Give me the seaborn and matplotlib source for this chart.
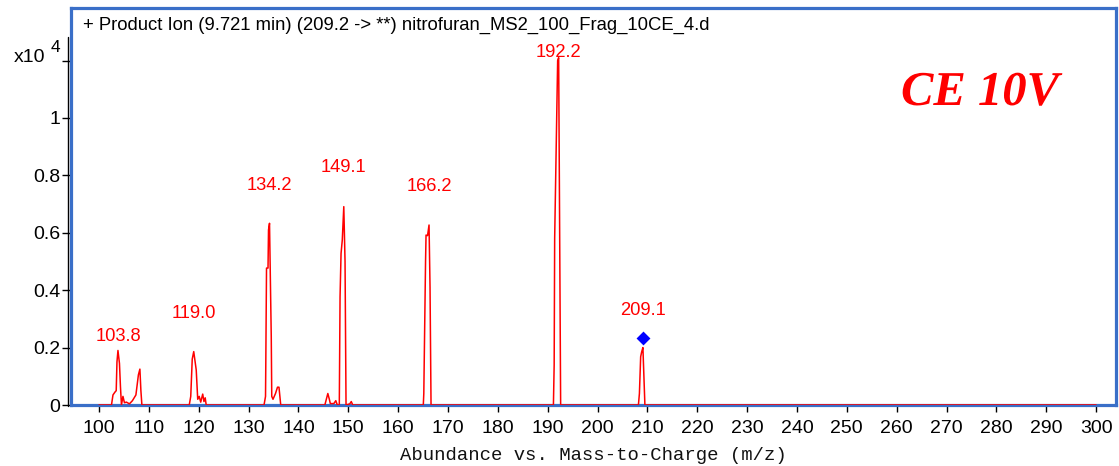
import matplotlib
matplotlib.use("Agg")
import matplotlib.pyplot as plt
import matplotlib.patheffects as pe
from matplotlib.lines import Line2D
from matplotlib import font_manager
import seaborn as sns
import pandas as pd

# Profile spectrum (m/z, abundance in units of 1e4 counts)
mz = [100.0, 102.5, 102.8, 103.2, 103.45, 103.6, 103.8, 104.1, 104.3, 104.5,
      104.8, 105.1, 105.5, 106.1, 106.7, 107.4, 107.9, 108.2, 108.4, 108.6,
      118.1, 118.4, 118.7, 119.0, 119.5, 119.8, 120.1, 120.4, 120.8, 121.05,
      121.3, 121.5,
      133.1, 133.4, 133.45, 133.6, 133.9, 134.0, 134.2, 134.55, 134.65, 134.9,
      135.4, 135.8, 136.1, 136.45,
      145.3, 145.6, 145.9, 146.2, 146.4, 147.1, 147.5, 147.8, 148.2, 148.35,
      148.55, 148.8, 149.1, 149.35, 149.55, 150.3, 150.6, 150.9,
      165.05, 165.15, 165.5, 165.6, 165.9, 166.2, 166.4, 166.6,
      191.15, 191.3, 191.4, 192.0, 192.2, 192.6,
      208.2, 208.4, 208.65, 208.85, 209.1, 209.5, 300.0]
abundance = [0.0, 0.0, 0.035, 0.045, 0.05, 0.15, 0.19, 0.145, 0.064, 0.0,
             0.03, 0.008, 0.01, 0.004, 0.015, 0.035, 0.105, 0.125, 0.05, 0.0,
             0.0, 0.03, 0.16, 0.186, 0.122, 0.02, 0.03, 0.01, 0.038, 0.012,
             0.025, 0.0,
             0.0, 0.03, 0.133, 0.477, 0.477, 0.61, 0.633, 0.238, 0.03, 0.02,
             0.04, 0.062, 0.062, 0.0,
             0.0, 0.02, 0.04, 0.02, 0.005, 0.005, 0.015, 0.0, 0.0, 0.377,
             0.528, 0.575, 0.691, 0.5, 0.0, 0.004, 0.012, 0.0,
             0.0, 0.04, 0.5, 0.592, 0.59, 0.627, 0.41, 0.0,
             0.0, 0.14, 0.58, 1.2, 1.21, 0.0,
             0.0, 0.04, 0.168, 0.185, 0.2, 0.0, 0.0]

# Annotated peaks
peak_labels = ["103.8", "119.0", "134.2", "149.1", "166.2", "192.2", "209.1"]
peak_mz = [103.8, 119.0, 134.2, 149.1, 166.2, 192.2, 209.1]
label_height = [0.237, 0.319, 0.765, 0.828, 0.761, 1.228, 0.329]

# Precursor ion marker
precursor_mz = [209.1]
precursor_level = [0.234]

x_ticks = list(range(100, 301, 10))
y_ticks = [0, 0.2, 0.4, 0.6, 0.8, 1.0, 1.2]
y_ticklabels = ["0", "0.2", "0.4", "0.6", "0.8", "1", ""]

sns.set_theme(style="white")
installed = {f.name for f in font_manager.fontManager.ttflist}
narrow = "Liberation Sans Narrow" if "Liberation Sans Narrow" in installed else "Liberation Sans"
plt.rcParams["font.family"] = [narrow, "DejaVu Sans"]

W, H = 1119, 466
fig = plt.figure(figsize=(W / 100, H / 100), dpi=100)
fig.patch.set_facecolor("white")
ax = fig.add_axes([71 / W, 61 / H, 1045 / W, 397 / H])
ax.set_facecolor("white")

frame_blue = "#3A6FC8"

spec = pd.DataFrame({"mz": mz, "abundance": abundance})
sns.lineplot(data=spec, x="mz", y="abundance", ax=ax, color="#FF0000",
             linewidth=1.1, sort=False, estimator=None, zorder=3)

prec = pd.DataFrame({"mz": precursor_mz, "level": precursor_level})
sns.scatterplot(data=prec, x="mz", y="level", ax=ax, marker="D", color="#0000FF",
                s=50, edgecolor="#0000FF", linewidth=0, zorder=4)

for lab, xm, yl in zip(peak_labels, peak_mz, label_height):
    ax.text(xm, yl, lab, color="#FF0000", fontsize=13.2, ha="center",
            va="center", zorder=5)

ax.set_xlim(94.38, 304.0)
ax.set_ylim(0, 1.383)
ax.set_xticks(x_ticks)
ax.set_xticklabels([str(t) for t in x_ticks])
ax.set_yticks(y_ticks)
ax.set_yticklabels(y_ticklabels)
ax.set_xlabel("Abundance vs. Mass-to-Charge (m/z)", family=["Liberation Mono", "DejaVu Sans Mono"],
              fontsize=13.6, color="#111111", labelpad=7)
ax.set_ylabel("")

for side in ["top", "right", "bottom", "left"]:
    ax.spines[side].set_visible(True)
    ax.spines[side].set_color(frame_blue)
    ax.spines[side].set_linewidth(2.3)

ax.tick_params(axis="x", which="major", bottom=True, direction="out", length=5,
               width=1, color="black", labelsize=14, pad=6, labelcolor="black")
ax.tick_params(axis="y", which="major", left=True, direction="out", length=6.5,
               width=1, color="black", labelsize=14, pad=1, labelcolor="black")

# Black abundance axis line just outside the frame
fig.add_artist(Line2D([68 / W, 68 / W], [(H - 406) / H, (H - 37) / H],
                      color="black", linewidth=1.0))

# Scale factor for the abundance axis
fig.text(45 / W, (H - 57) / H, "x10", fontsize=14, ha="right", va="center", color="black")
fig.text(51 / W, (H - 48) / H, "4", fontsize=12.5, ha="left", va="center", color="black")

# Scan description
ax.text(12 / 1045, 1 - 17 / 397, "+ Product Ion (9.721 min) (209.2 -> **) nitrofuran_MS2_100_Frag_10CE_4.d",
        transform=ax.transAxes, fontsize=13.3, ha="left", va="center", color="black")

# Collision energy tag
ax.text((980 - 71) / 1045, 1 - (93 - 8) / 397, "CE 10V", transform=ax.transAxes,
        family=["Liberation Serif", "DejaVu Serif"], fontsize=35, fontweight="bold",
        fontstyle="italic", color="#FF0000", ha="center", va="center",
        path_effects=[pe.SimpleLineShadow(offset=(2.5, -2.5), shadow_color="#8C8C8C", alpha=0.8),
                      pe.Normal()])

fig.savefig("out.png", dpi=100, facecolor="white")
